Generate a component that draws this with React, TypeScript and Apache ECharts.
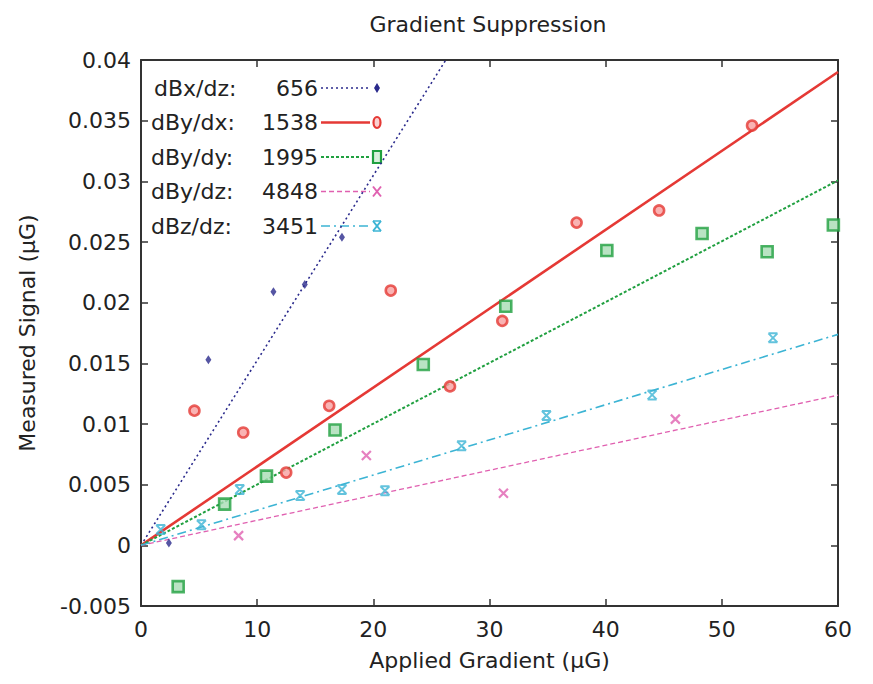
import React, { useEffect, useRef } from "react";
import * as echarts from "echarts";

const titleText = "Gradient Suppression";
const xName = "Applied Gradient (µG)";
const yName = "Measured Signal (µG)";

const fitLabels = ["dBx/dz:", "dBy/dx:", "dBy/dy:", "dBy/dz:", "dBz/dz:"];
const fitValues = [656, 1538, 1995, 4848, 3451];
const colors = ["#2a2a8c", "#e53935", "#20a040", "#e060b0", "#3cb4d4"];

const navyX = [2.4, 5.8, 11.4, 14.1, 17.3];
const navyY = [0.0002, 0.0153, 0.0209, 0.0215, 0.0254];

const redX = [4.6, 8.8, 12.5, 16.2, 21.5, 26.6, 31.1, 37.5, 44.6, 52.6];
const redY = [0.0111, 0.0093, 0.006, 0.0115, 0.021, 0.0131, 0.0185, 0.0266, 0.0276, 0.0346];

const greenX = [3.2, 7.2, 10.8, 16.7, 24.3, 31.4, 40.1, 48.3, 53.9, 59.6];
const greenY = [-0.0034, 0.0034, 0.0057, 0.0095, 0.0149, 0.0197, 0.0243, 0.0257, 0.0242, 0.0264];

const pinkX = [8.4, 19.4, 31.2, 46.0];
const pinkY = [0.0008, 0.0074, 0.0043, 0.0104];

const cyanX = [1.7, 5.2, 8.5, 13.7, 17.3, 21.0, 27.6, 34.9, 44.0, 54.4];
const cyanY = [0.0013, 0.0017, 0.0046, 0.0041, 0.0046, 0.0045, 0.0082, 0.0107, 0.0124, 0.0171];

const xMin = 0, xMax = 60, xStep = 10;
const yMin = -0.005, yMax = 0.04, yStep = 0.005;

const pointSets = [
  [navyX, navyY],
  [redX, redY],
  [greenX, greenY],
  [pinkX, pinkY],
  [cyanX, cyanY],
];

const FONT = "DejaVu Sans, Liberation Sans, Arial, sans-serif";

export default function App() {
  const ref = useRef<HTMLDivElement>(null);
  useEffect(() => {
    if (!ref.current) return;
    const chart = echarts.init(ref.current, null, { renderer: "svg" });

    const lineStyles = [
      { width: 1.6, type: [2, 3] },
      { width: 2.6, type: "solid" },
      { width: 2, type: [3, 2] },
      { width: 1.3, type: [5, 3] },
      { width: 1.6, type: [9, 4, 2, 4] },
    ];
    const symbols: any[] = [
      { symbol: "diamond", size: [6, 9], fill: colors[0], border: colors[0], bw: 0 },
      { symbol: "circle", size: 10, fill: "#f7a0a0", border: colors[1], bw: 2.6 },
      { symbol: "rect", size: 11, fill: "#a8dcb4", border: colors[2], bw: 2.6 },
      { symbol: "path://M0,0L10,10M10,0L0,10", size: 9, fill: "none", border: colors[3], bw: 2.2 },
      { symbol: "path://M0,0L10,0M0,10L10,10M0,0L10,10M10,0L0,10", size: 9, fill: "none", border: colors[4], bw: 2 },
    ];

    const series: any[] = [];
    fitValues.forEach((k, i) => {
      series.push({
        type: "line",
        name: fitLabels[i] + " fit",
        data: [[xMin, xMin / k], [xMax, xMax / k]],
        showSymbol: false,
        symbol: "none",
        clip: true,
        lineStyle: { color: colors[i], width: lineStyles[i].width, type: lineStyles[i].type },
        z: 2,
      });
      const [xs, ys] = pointSets[i];
      series.push({
        type: "scatter",
        name: fitLabels[i],
        data: xs.map((x, j) => [x, ys[j]]),
        symbol: symbols[i].symbol,
        symbolSize: symbols[i].size,
        itemStyle: {
          color: symbols[i].fill,
          borderColor: symbols[i].border,
          borderWidth: symbols[i].bw,
        },
        z: 3,
      });
    });

    // legend drawn as graphics (chart coordinates; page has 8px margin)
    const legendTop = 80;
    const legendStep = 34.5;
    const graphics: any[] = [];
    fitLabels.forEach((lab, i) => {
      const y = legendTop + i * legendStep;
      graphics.push({
        type: "text",
        x: i === 0 ? 146 : 143,
        y: y,
        style: { text: lab, font: `22px ${FONT}`, fill: "#222", textVerticalAlign: "middle" },
      });
      graphics.push({
        type: "text",
        x: 310,
        y: y,
        style: {
          text: String(fitValues[i]),
          font: `22px ${FONT}`,
          fill: "#222",
          textAlign: "right",
          textVerticalAlign: "middle",
        },
      });
      graphics.push({
        type: "line",
        shape: { x1: 313, y1: y, x2: 362, y2: y },
        style: {
          stroke: colors[i],
          lineWidth: lineStyles[i].width,
          lineDash: lineStyles[i].type === "solid" ? null : lineStyles[i].type,
        },
      });
      const mx = 369;
      if (i === 0) {
        graphics.push({
          type: "polygon",
          shape: { points: [[mx, y - 5], [mx + 3, y], [mx, y + 5], [mx - 3, y]] },
          style: { fill: colors[0] },
        });
      } else if (i === 1) {
        graphics.push({
          type: "ellipse",
          shape: { cx: mx, cy: y, rx: 3.5, ry: 5.5 },
          style: { fill: "#fbd0d0", stroke: colors[1], lineWidth: 2.2 },
        });
      } else if (i === 2) {
        graphics.push({
          type: "rect",
          shape: { x: mx - 4, y: y - 6, width: 8, height: 12 },
          style: { fill: "#d8f0dc", stroke: colors[2], lineWidth: 2.2 },
        });
      } else {
        const c = colors[i];
        graphics.push({ type: "line", shape: { x1: mx - 4, y1: y - 5, x2: mx + 4, y2: y + 5 }, style: { stroke: c, lineWidth: 2 } });
        graphics.push({ type: "line", shape: { x1: mx + 4, y1: y - 5, x2: mx - 4, y2: y + 5 }, style: { stroke: c, lineWidth: 2 } });
        if (i === 4) {
          graphics.push({ type: "line", shape: { x1: mx - 4, y1: y - 5, x2: mx + 4, y2: y - 5 }, style: { stroke: c, lineWidth: 1.5 } });
          graphics.push({ type: "line", shape: { x1: mx - 4, y1: y + 5, x2: mx + 4, y2: y + 5 }, style: { stroke: c, lineWidth: 1.5 } });
        }
      }
    });

    const fmtY = (v: number) => String(parseFloat(v.toFixed(4)));
    const axisLine = { show: true, onZero: false, lineStyle: { color: "#333", width: 2 } };
    const axisTick = { show: true, inside: true, length: 7, lineStyle: { color: "#333", width: 1.5 } };
    const labelStyle = { color: "#222", fontSize: 22, fontFamily: FONT };

    chart.setOption({
      animation: false,
      backgroundColor: "#fff",
      title: {
        text: titleText,
        left: 475,
        textAlign: "center",
        top: 0,
        textStyle: { fontSize: 22, fontWeight: "normal", color: "#222", fontFamily: FONT },
      },
      grid: { left: 132, right: 27, top: 52, bottom: 68 },
      xAxis: [
        {
          type: "value",
          min: xMin,
          max: xMax,
          interval: xStep,
          axisLine,
          axisTick,
          splitLine: { show: false },
          axisLabel: { ...labelStyle, margin: 12 },
          name: xName,
          nameLocation: "middle",
          nameGap: 43,
          nameTextStyle: { ...labelStyle },
        },
        {
          type: "value",
          position: "top",
          min: xMin,
          max: xMax,
          interval: xStep,
          axisLine,
          axisTick,
          splitLine: { show: false },
          axisLabel: { show: false },
        },
      ],
      yAxis: [
        {
          type: "value",
          min: yMin,
          max: yMax,
          interval: yStep,
          axisLine,
          axisTick,
          splitLine: { show: false },
          axisLabel: { ...labelStyle, margin: 10, formatter: fmtY },
          name: yName,
          nameLocation: "middle",
          nameGap: 103,
          nameTextStyle: { ...labelStyle },
        },
        {
          type: "value",
          position: "right",
          min: yMin,
          max: yMax,
          interval: yStep,
          axisLine,
          axisTick,
          splitLine: { show: false },
          axisLabel: { show: false },
        },
      ],
      series,
      graphic: graphics,
    });
    return () => chart.dispose();
  }, []);
  return <div ref={ref} style={{ width: 857, height: 668 }} />;
}
